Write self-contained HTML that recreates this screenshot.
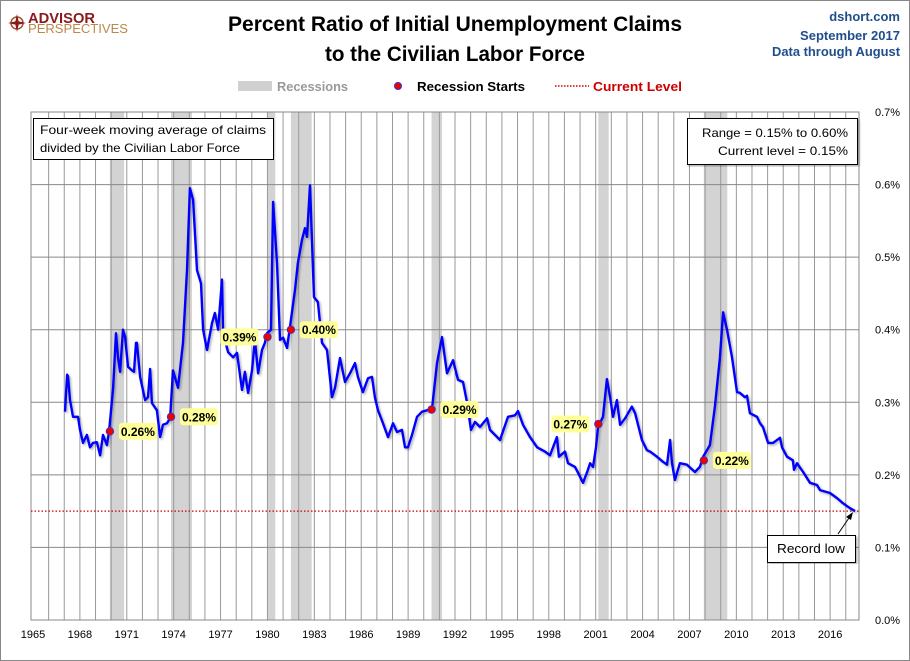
<!DOCTYPE html>
<html><head><meta charset="utf-8"><style>
body{margin:0;background:#fff;}
svg{display:block;font-family:"Liberation Sans",sans-serif;}
</style></head><body>
<svg id="chart" width="910" height="661" viewBox="0 0 910 661" xmlns="http://www.w3.org/2000/svg">
<defs><filter id="sh" x="-5%" y="-5%" width="110%" height="110%"><feDropShadow dx="1.5" dy="1.5" stdDeviation="1" flood-color="#000" flood-opacity="0.3"/></filter></defs>
<rect x="0.5" y="0.5" width="909" height="660" fill="#fff" stroke="#888"/>
<g id="grid"></g>
<g id="rec"></g>
<g id="vgrid"></g>
<g id="series"></g>
<g id="ann"></g>
<g id="axes"></g>

<g>
<circle cx="17" cy="23" r="6" fill="none" stroke="#a0522d" stroke-width="1.5"/>
<path d="M17 14 L19 23 L17 32 L15 23 Z M8 23 L17 21 L26 23 L17 25 Z" fill="#8b1a1a"/>
<text x="28" y="23" font-size="15" font-weight="bold" fill="#8b1a1a" textLength="67" lengthAdjust="spacingAndGlyphs">ADVISOR</text>
<text x="28" y="33" font-size="13" fill="#b8894a" textLength="100" lengthAdjust="spacingAndGlyphs">PERSPECTIVES</text>
</g>
<text x="455" y="31" text-anchor="middle" font-size="21" font-weight="bold" fill="#000" textLength="454" lengthAdjust="spacingAndGlyphs">Percent Ratio of Initial Unemployment Claims</text>
<text x="455" y="61" text-anchor="middle" font-size="21" font-weight="bold" fill="#000" textLength="260" lengthAdjust="spacingAndGlyphs">to the Civilian Labor Force</text>
<g font-size="13" font-weight="bold" fill="#1f4e8c" text-anchor="end">
<text x="900" y="21">dshort.com</text>
<text x="900" y="40" textLength="100" lengthAdjust="spacingAndGlyphs">September 2017</text>
<text x="900" y="56" textLength="128" lengthAdjust="spacingAndGlyphs">Data through August</text>
</g>
<g font-size="13" font-weight="bold">
<rect x="238" y="81" width="34" height="10" fill="#d0d0d0"/>
<text x="277" y="91" fill="#999" textLength="71" lengthAdjust="spacingAndGlyphs">Recessions</text>
<circle cx="398" cy="86" r="3.5" fill="#e00" stroke="#33c" stroke-width="1"/>
<text x="417" y="91" fill="#000" textLength="108" lengthAdjust="spacingAndGlyphs">Recession Starts</text>
<line x1="555" y1="86" x2="589" y2="86" stroke="#c00" stroke-width="1.5" stroke-dasharray="1.5,1.5"/>
<text x="593" y="91" fill="#c00" textLength="89" lengthAdjust="spacingAndGlyphs">Current Level</text>
</g>
<g>
<rect x="33.5" y="118.5" width="240" height="41" fill="#fff" stroke="#000"/>
<text x="40" y="134" font-size="12" textLength="226" lengthAdjust="spacingAndGlyphs">Four-week moving average of claims</text>
<text x="40" y="152" font-size="12" textLength="200" lengthAdjust="spacingAndGlyphs">divided by the Civilian Labor Force</text>
</g>
<g>
<rect x="687.5" y="118.5" width="170" height="46" fill="#fff" stroke="#000" filter="url(#sh)"/>
<text x="848" y="137" font-size="12" text-anchor="end" textLength="146" lengthAdjust="spacingAndGlyphs">Range = 0.15% to 0.60%</text>
<text x="848" y="155" font-size="12" text-anchor="end" textLength="130" lengthAdjust="spacingAndGlyphs">Current level = 0.15%</text>
</g>
<g>
<line x1="838" y1="534" x2="851" y2="515" stroke="#000" stroke-width="1"/>
<path d="M853 512 L846 517 L851 520 Z" fill="#000"/>
<rect x="767.5" y="535.5" width="88" height="27" fill="#fff" stroke="#000" filter="url(#sh)"/>
<text x="811" y="553" font-size="13" text-anchor="middle" textLength="68" lengthAdjust="spacingAndGlyphs">Record low</text>
</g>
</svg>
<script>
const years=[1967.05,1967.18,1967.24,1967.37,1967.56,1967.88,1968.01,1968.20,1968.45,1968.65,1968.84,1969.09,1969.29,1969.48,1969.73,1969.86,1970.12,1970.31,1970.44,1970.57,1970.76,1970.89,1971.08,1971.33,1971.46,1971.59,1971.65,1971.85,1972.17,1972.36,1972.49,1972.61,1972.93,1973.13,1973.32,1973.57,1973.77,1973.96,1974.28,1974.60,1974.85,1975.04,1975.24,1975.49,1975.75,1975.88,1976.13,1976.45,1976.64,1976.84,1977.09,1977.16,1977.48,1977.80,1978.05,1978.37,1978.56,1978.76,1979.01,1979.20,1979.40,1979.65,1979.84,1979.97,1980.23,1980.36,1980.61,1980.80,1981.00,1981.25,1981.44,1981.76,1981.95,1982.21,1982.40,1982.53,1982.72,1982.98,1983.23,1983.49,1983.81,1984.13,1984.32,1984.64,1984.96,1985.28,1985.60,1985.79,1986.11,1986.43,1986.69,1986.88,1987.07,1987.39,1987.71,1988.03,1988.29,1988.61,1988.80,1988.99,1989.25,1989.57,1989.89,1990.21,1990.53,1990.85,1991.17,1991.49,1991.87,1992.19,1992.51,1992.77,1993.02,1993.28,1993.60,1994.05,1994.24,1994.88,1995.39,1995.84,1996.03,1996.35,1996.80,1997.25,1997.76,1998.08,1998.52,1998.65,1999.04,1999.23,1999.68,1999.87,2000.19,2000.44,2000.64,2000.83,2001.02,2001.15,2001.47,2001.72,2001.92,2002.11,2002.36,2002.56,2002.88,2003.32,2003.52,2003.96,2004.28,2004.48,2004.92,2005.31,2005.56,2005.76,2005.88,2006.07,2006.39,2006.84,2007.35,2007.67,2007.87,2008.31,2008.63,2008.95,2009.15,2009.40,2009.72,2010.04,2010.23,2010.55,2010.68,2010.87,2011.32,2011.51,2011.70,2012.03,2012.35,2012.79,2012.92,2013.24,2013.62,2013.69,2013.88,2014.27,2014.71,2015.16,2015.35,2015.99,2016.44,2016.82,2017.27,2017.59];
const values=[.287,.338,.336,.303,.280,.280,.262,.244,.255,.238,.244,.245,.227,.255,.241,.259,.317,.395,.362,.342,.400,.390,.349,.344,.342,.382,.382,.335,.303,.307,.346,.299,.289,.252,.269,.271,.278,.344,.320,.382,.482,.595,.579,.482,.464,.400,.372,.409,.423,.400,.469,.395,.369,.362,.368,.317,.342,.313,.344,.386,.340,.372,.382,.395,.400,.576,.492,.386,.389,.375,.404,.455,.492,.524,.540,.528,.599,.445,.438,.382,.372,.307,.320,.361,.328,.340,.354,.335,.314,.333,.335,.306,.289,.271,.252,.271,.259,.262,.238,.238,.255,.280,.287,.289,.291,.354,.390,.340,.358,.331,.328,.300,.262,.273,.266,.278,.262,.248,.280,.282,.288,.269,.252,.238,.232,.227,.252,.225,.232,.216,.211,.203,.189,.203,.216,.211,.238,.266,.280,.332,.307,.280,.303,.269,.278,.294,.285,.248,.234,.232,.225,.218,.214,.248,.216,.193,.216,.214,.204,.211,.225,.241,.294,.361,.424,.400,.362,.314,.313,.307,.309,.285,.280,.271,.266,.244,.244,.251,.238,.225,.220,.207,.216,.204,.189,.186,.179,.175,.168,.161,.154,.150];
const recStart=[1969.92,1973.83,1980.0,1981.5,1990.5,2001.17,2007.92];
const recEnd=[1970.83,1975.17,1980.5,1982.83,1991.17,2001.83,2009.42];
const startVals=[0.26,0.28,0.39,0.40,0.29,0.27,0.22];
const startLabels=["0.26%","0.28%","0.39%","0.40%","0.29%","0.27%","0.22%"];
const labelSide=[1,1,-1,1,1,-1,1];
const yTicks=[0,0.1,0.2,0.3,0.4,0.5,0.6,0.7];
const yTickLabels=["0.0%","0.1%","0.2%","0.3%","0.4%","0.5%","0.6%","0.7%"];
const xTickYears=[1965,1968,1971,1974,1977,1980,1983,1986,1989,1992,1995,1998,2001,2004,2007,2010,2013,2016];
const currentLevel=0.15;

const L=31,R=859,T=112,B=620;
const X=y=>33+(y-1965)*15.63;
const Y=v=>B-(v/0.7)*(B-T);
const NS="http://www.w3.org/2000/svg";
function mk(tag,parent,attrs){const e=document.createElementNS(NS,tag);for(const k in attrs)e.setAttribute(k,attrs[k]);parent.appendChild(e);return e;}
const grid=document.getElementById('grid'),rec=document.getElementById('rec'),vg=document.getElementById('vgrid'),ser=document.getElementById('series'),ann=document.getElementById('ann'),axes=document.getElementById('axes');
mk('rect',grid,{x:L,y:T,width:R-L,height:B-T,fill:'#fff'});
for(let i=0;i<recStart.length;i++){
 const r=mk('rect',rec,{x:X(recStart[i]),y:T,width:X(recEnd[i])-X(recStart[i]),height:B-T,fill:'#d3d3d3'});
 
 
}
for(let yr=1966;yr<=2017;yr++){
 const l=mk('line',vg,{x1:X(yr),x2:X(yr),y1:T,y2:B,stroke:'#999','stroke-width':1});
 
 
}
yTicks.forEach((v,i)=>{
 const l=mk('line',vg,{x1:L,x2:R,y1:Y(v),y2:Y(v),stroke:'#888','stroke-width':1});
 
 
 const t=mk('text',axes,{x:875,y:Y(v)+4,'font-size':11,fill:'#000'});
 t.textContent=yTickLabels[i];
 
 
});
mk('rect',vg,{x:L,y:T,width:R-L,height:B-T,fill:'none',stroke:'#888'});
xTickYears.forEach(yr=>{
 const t=mk('text',axes,{x:X(yr),y:638,'font-size':11,'text-anchor':'middle',fill:'#000'});
 t.textContent=yr;
 
 
});
const cl=mk('line',ser,{x1:L,x2:R,y1:Y(currentLevel),y2:Y(currentLevel),stroke:'#c00','stroke-width':1.3,'stroke-dasharray':'1.5,2'});


const d=years.map((y,i)=>(i?'L':'M')+X(y).toFixed(1)+' '+Y(values[i]).toFixed(1)).join(' ');
const p=mk('path',ser,{d:d,fill:'none',stroke:'#0000ff','stroke-width':2.4,'stroke-linejoin':'round',filter:'url(#sh)'});


recStart.forEach((yr,i)=>{
 const cx=X(yr),cy=Y(startVals[i]);
 const w=38,h=17;
 const bx=labelSide[i]>0?cx+9:cx-9-w;
 const b=mk('rect',ann,{x:bx,y:cy-h/2,width:w,height:h,rx:3,fill:'#ffff99'});
 
 
 const t=mk('text',ann,{x:bx+w/2,y:cy+4.5,'font-size':12,'font-weight':'bold','text-anchor':'middle',fill:'#000'});
 t.textContent=startLabels[i];
 
 
 const c=mk('circle',ann,{cx:cx,cy:cy,r:3.8,fill:'#e00',stroke:'#33c','stroke-width':0.8});
 
 
});
</script>
</body></html>
